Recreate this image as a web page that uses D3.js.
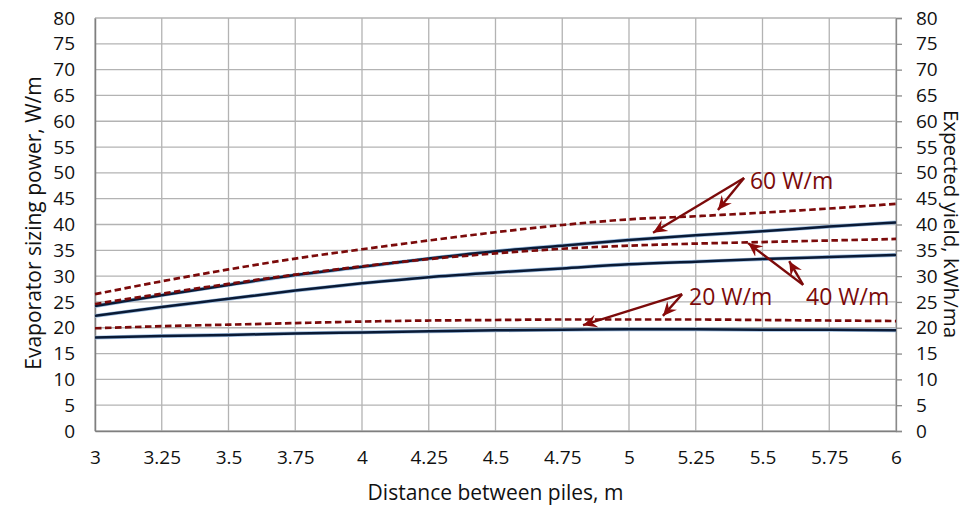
<!DOCTYPE html>
<html>
<head>
<meta charset="utf-8">
<script src="https://cdn.jsdelivr.net/npm/d3@7"></script>
<style>
  body { margin: 0; background: #fff; }
  svg { display: block; }
  text { font-family: "Open Sans", "Noto Sans", sans-serif; }
</style>
</head>
<body>
<svg id="chart" width="967" height="505"></svg>
<script>
// ---- data ----
const distances = [3, 3.25, 3.5, 3.75, 4, 4.25, 4.5, 4.75, 5, 5.25, 5.5, 5.75, 6];
const xTicks = [3, 3.25, 3.5, 3.75, 4, 4.25, 4.5, 4.75, 5, 5.25, 5.5, 5.75, 6];
const yTicks = [0, 5, 10, 15, 20, 25, 30, 35, 40, 45, 50, 55, 60, 65, 70, 75, 80];

// Evaporator sizing power (solid)
const power60 = [24.2, 26.3, 28.3, 30.2, 31.8, 33.4, 34.8, 35.9, 37.0, 37.9, 38.7, 39.6, 40.4];
const power40 = [22.3, 24.0, 25.6, 27.2, 28.6, 29.8, 30.7, 31.5, 32.3, 32.8, 33.3, 33.7, 34.1];
const power20 = [18.1, 18.4, 18.6, 18.9, 19.1, 19.3, 19.5, 19.6, 19.7, 19.7, 19.6, 19.6, 19.5];
// Expected yield (dashed)
const yield60 = [26.5, 29.0, 31.3, 33.4, 35.2, 36.9, 38.5, 39.9, 41.0, 41.6, 42.3, 43.1, 44.0];
const yield40 = [24.6, 26.6, 28.5, 30.3, 31.9, 33.3, 34.4, 35.3, 35.9, 36.3, 36.6, 36.9, 37.2];
const yield20 = [19.9, 20.3, 20.6, 20.9, 21.2, 21.4, 21.5, 21.6, 21.6, 21.6, 21.5, 21.4, 21.3];

// annotations (data coordinates)
const annLabels = ["60 W/m", "40 W/m", "20 W/m"];
const annText = [[5.453, 48.4], [5.663, 26.0], [5.225, 26.0]];
const annFrom = [[5.431, 49.0], [5.652, 28.3], [5.199, 26.5]];
const annTo = [
  [[5.09, 38.4], [5.333, 42.8]],
  [[5.446, 36.4], [5.60, 32.9]],
  [[4.828, 20.5], [5.127, 22.3]]
];

// ---- layout ----
const svg = d3.select("#chart");
const L = 95, R = 896, T = 18, B = 431;
const x = d3.scaleLinear().domain([3, 6]).range([L, R]);
const y = d3.scaleLinear().domain([0, 80]).range([B, T]);
const yR = d3.scaleLinear().domain([0, 80]).range([B, T]);

const gridColor = "#b3b3b3";
const red = "#7b0a0a";
const navy = "#0a1a35";

// grid
svg.append("g").selectAll("line.h").data(yTicks).join("line")
  .attr("x1", L).attr("x2", R)
  .attr("y1", d => y(d)).attr("y2", d => y(d))
  .attr("stroke", gridColor).attr("stroke-width", 1.3);
svg.append("g").selectAll("line.v").data(xTicks).join("line")
  .attr("x1", d => x(d)).attr("x2", d => x(d))
  .attr("y1", T).attr("y2", B)
  .attr("stroke", gridColor).attr("stroke-width", 1.3);

// left axis
const gL = svg.append("g").attr("transform", `translate(${L},0)`)
  .call(d3.axisLeft(y).tickValues(yTicks).tickSize(0).tickPadding(20));
gL.select(".domain").attr("stroke", "#7f7f7f").attr("stroke-width", 1.5);
gL.selectAll("text").attr("font-size", 19).attr("fill", "#111");

// right axis
const gR = svg.append("g").attr("transform", `translate(${R},0)`)
  .call(d3.axisRight(yR).tickValues(yTicks).tickSize(6).tickPadding(14));
gR.select(".domain").attr("stroke", "#8a8a8a").attr("stroke-width", 1.3);
gR.selectAll(".tick line").attr("stroke", "#8a8a8a").attr("stroke-width", 1.3);
gR.selectAll("text").attr("font-size", 19).attr("fill", "#111");

// bottom axis
const gB = svg.append("g").attr("transform", `translate(0,${B})`)
  .call(d3.axisBottom(x).tickValues(xTicks).tickSize(0).tickPadding(20)
    .tickFormat(d => String(d)));
gB.select(".domain").attr("stroke", "#7f7f7f").attr("stroke-width", 1.5);
gB.selectAll("text").attr("font-size", 19).attr("fill", "#111");

// axis titles
svg.append("text").attr("x", (L + R) / 2).attr("y", 500)
  .attr("text-anchor", "middle").attr("font-size", 21).attr("fill", "#111")
  .text("Distance between piles, m");
svg.append("text").attr("transform", "translate(41,223) rotate(-90)")
  .attr("text-anchor", "middle").attr("font-size", 21).attr("fill", "#111")
  .text("Evaporator sizing power, W/m");
svg.append("text").attr("transform", "translate(944,224) rotate(90)")
  .attr("text-anchor", "middle").attr("font-size", 20.5).attr("fill", "#111")
  .text("Expected yield, kWh/ma");

// lines
const line = d3.line().x((d, i) => x(distances[i])).y(d => y(d)).curve(d3.curveMonotoneX);
const lg = svg.append("g");
[power60, power40, power20].forEach(s => {
  lg.append("path").attr("d", line(s)).attr("fill", "none")
    .attr("stroke", "#9dbde0").attr("stroke-width", 3.8);
  lg.append("path").attr("d", line(s)).attr("fill", "none")
    .attr("stroke", navy).attr("stroke-width", 2.5);
});
[yield60, yield40, yield20].forEach(s => {
  lg.append("path").attr("d", line(s)).attr("fill", "none")
    .attr("stroke", red).attr("stroke-width", 2.7)
    .attr("stroke-dasharray", "6.5,3.5");
});

// arrow marker
svg.append("defs").append("marker")
  .attr("id", "arr").attr("viewBox", "-14 -7 16 14")
  .attr("refX", 0).attr("refY", 0)
  .attr("markerWidth", 16).attr("markerHeight", 14)
  .attr("markerUnits", "userSpaceOnUse")
  .attr("orient", "auto")
  .append("path").attr("d", "M0,0 L-14,-6.5 L-9,0 L-14,6.5 Z").attr("fill", "#8b0a0a");

const ag = svg.append("g");
annLabels.forEach((lab, i) => {
  annTo[i].forEach(t => {
    ag.append("line")
      .attr("x1", x(annFrom[i][0])).attr("y1", y(annFrom[i][1]))
      .attr("x2", x(t[0])).attr("y2", y(t[1]))
      .attr("stroke", red).attr("stroke-width", 2.4)
      .attr("marker-end", "url(#arr)");
  });
  ag.append("text").attr("x", x(annText[i][0])).attr("y", y(annText[i][1]))
    .attr("dy", "0.36em").attr("font-size", 23).attr("fill", red)
    .text(lab);
});
</script>
</body>
</html>
